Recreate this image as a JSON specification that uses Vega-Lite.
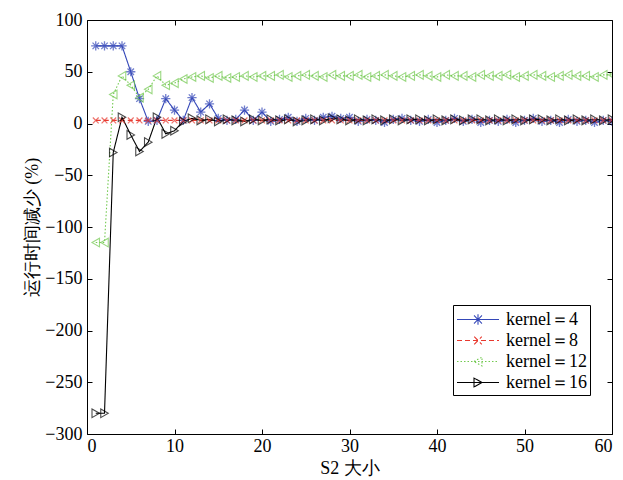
{
  "$schema": "https://vega.github.io/schema/vega-lite/v6.json",
  "autosize": "none",
  "padding": {"left": 87, "top": 20, "right": 11, "bottom": 46},
  "width": 525,
  "height": 414,
  "background": "white",
  "config": {
    "view": {"stroke": null},
    "font": "Liberation Serif",
    "axis": {
      "grid": false,
      "domainColor": "black",
      "tickColor": "black",
      "tickSize": -5,
      "labelColor": "black",
      "titleColor": "black",
      "labelFont": "Liberation Serif",
      "titleFont": "Liberation Serif",
      "labelFontSize": 18,
      "titleFontSize": 18,
      "titleFontWeight": "normal"
    }
  },
  "datasets": {
    "runs": [
      {"x":1,"y":75,"k":"kernel＝4"},{"x":2,"y":75,"k":"kernel＝4"},{"x":3,"y":75,"k":"kernel＝4"},{"x":4,"y":75,"k":"kernel＝4"},{"x":5,"y":50,"k":"kernel＝4"},{"x":6,"y":24,"k":"kernel＝4"},{"x":7,"y":2,"k":"kernel＝4"},{"x":8,"y":3,"k":"kernel＝4"},{"x":9,"y":24,"k":"kernel＝4"},{"x":10,"y":13,"k":"kernel＝4"},
      {"x":11,"y":3,"k":"kernel＝4"},{"x":12,"y":25,"k":"kernel＝4"},{"x":13,"y":11,"k":"kernel＝4"},{"x":14,"y":19,"k":"kernel＝4"},{"x":15,"y":5,"k":"kernel＝4"},{"x":16,"y":3,"k":"kernel＝4"},{"x":17,"y":4,"k":"kernel＝4"},{"x":18,"y":13,"k":"kernel＝4"},{"x":19,"y":3,"k":"kernel＝4"},{"x":20,"y":11,"k":"kernel＝4"},
      {"x":21,"y":2,"k":"kernel＝4"},{"x":22,"y":4,"k":"kernel＝4"},{"x":23,"y":6,"k":"kernel＝4"},{"x":24,"y":2,"k":"kernel＝4"},{"x":25,"y":5,"k":"kernel＝4"},{"x":26,"y":3,"k":"kernel＝4"},{"x":27,"y":6,"k":"kernel＝4"},{"x":28,"y":7,"k":"kernel＝4"},{"x":29,"y":5,"k":"kernel＝4"},{"x":30,"y":6,"k":"kernel＝4"},
      {"x":31,"y":2,"k":"kernel＝4"},{"x":32,"y":4,"k":"kernel＝4"},{"x":33,"y":3,"k":"kernel＝4"},{"x":34,"y":1,"k":"kernel＝4"},{"x":35,"y":4,"k":"kernel＝4"},{"x":36,"y":5,"k":"kernel＝4"},{"x":37,"y":3,"k":"kernel＝4"},{"x":38,"y":2,"k":"kernel＝4"},{"x":39,"y":4,"k":"kernel＝4"},{"x":40,"y":1,"k":"kernel＝4"},
      {"x":41,"y":3,"k":"kernel＝4"},{"x":42,"y":5,"k":"kernel＝4"},{"x":43,"y":2,"k":"kernel＝4"},{"x":44,"y":4,"k":"kernel＝4"},{"x":45,"y":1,"k":"kernel＝4"},{"x":46,"y":3,"k":"kernel＝4"},{"x":47,"y":2,"k":"kernel＝4"},{"x":48,"y":4,"k":"kernel＝4"},{"x":49,"y":1,"k":"kernel＝4"},{"x":50,"y":3,"k":"kernel＝4"},
      {"x":51,"y":5,"k":"kernel＝4"},{"x":52,"y":2,"k":"kernel＝4"},{"x":53,"y":3,"k":"kernel＝4"},{"x":54,"y":1,"k":"kernel＝4"},{"x":55,"y":4,"k":"kernel＝4"},{"x":56,"y":2,"k":"kernel＝4"},{"x":57,"y":3,"k":"kernel＝4"},{"x":58,"y":1,"k":"kernel＝4"},{"x":59,"y":3,"k":"kernel＝4"},{"x":60,"y":2,"k":"kernel＝4"},

      {"x":1,"y":3,"k":"kernel＝8"},{"x":2,"y":3,"k":"kernel＝8"},{"x":3,"y":3,"k":"kernel＝8"},{"x":4,"y":3,"k":"kernel＝8"},{"x":5,"y":3,"k":"kernel＝8"},{"x":6,"y":3,"k":"kernel＝8"},{"x":7,"y":3,"k":"kernel＝8"},{"x":8,"y":3,"k":"kernel＝8"},{"x":9,"y":3,"k":"kernel＝8"},{"x":10,"y":3,"k":"kernel＝8"},
      {"x":11,"y":3,"k":"kernel＝8"},{"x":12,"y":3,"k":"kernel＝8"},{"x":13,"y":3,"k":"kernel＝8"},{"x":14,"y":3,"k":"kernel＝8"},{"x":15,"y":3,"k":"kernel＝8"},{"x":16,"y":3,"k":"kernel＝8"},{"x":17,"y":3,"k":"kernel＝8"},{"x":18,"y":3,"k":"kernel＝8"},{"x":19,"y":3,"k":"kernel＝8"},{"x":20,"y":3,"k":"kernel＝8"},
      {"x":21,"y":3,"k":"kernel＝8"},{"x":22,"y":3,"k":"kernel＝8"},{"x":23,"y":3,"k":"kernel＝8"},{"x":24,"y":3,"k":"kernel＝8"},{"x":25,"y":3,"k":"kernel＝8"},{"x":26,"y":3,"k":"kernel＝8"},{"x":27,"y":3,"k":"kernel＝8"},{"x":28,"y":3,"k":"kernel＝8"},{"x":29,"y":3,"k":"kernel＝8"},{"x":30,"y":3,"k":"kernel＝8"},
      {"x":31,"y":3,"k":"kernel＝8"},{"x":32,"y":3,"k":"kernel＝8"},{"x":33,"y":3,"k":"kernel＝8"},{"x":34,"y":3,"k":"kernel＝8"},{"x":35,"y":3,"k":"kernel＝8"},{"x":36,"y":3,"k":"kernel＝8"},{"x":37,"y":3,"k":"kernel＝8"},{"x":38,"y":3,"k":"kernel＝8"},{"x":39,"y":3,"k":"kernel＝8"},{"x":40,"y":3,"k":"kernel＝8"},
      {"x":41,"y":3,"k":"kernel＝8"},{"x":42,"y":3,"k":"kernel＝8"},{"x":43,"y":3,"k":"kernel＝8"},{"x":44,"y":3,"k":"kernel＝8"},{"x":45,"y":3,"k":"kernel＝8"},{"x":46,"y":3,"k":"kernel＝8"},{"x":47,"y":3,"k":"kernel＝8"},{"x":48,"y":3,"k":"kernel＝8"},{"x":49,"y":3,"k":"kernel＝8"},{"x":50,"y":3,"k":"kernel＝8"},
      {"x":51,"y":3,"k":"kernel＝8"},{"x":52,"y":3,"k":"kernel＝8"},{"x":53,"y":3,"k":"kernel＝8"},{"x":54,"y":3,"k":"kernel＝8"},{"x":55,"y":3,"k":"kernel＝8"},{"x":56,"y":3,"k":"kernel＝8"},{"x":57,"y":3,"k":"kernel＝8"},{"x":58,"y":3,"k":"kernel＝8"},{"x":59,"y":3,"k":"kernel＝8"},{"x":60,"y":3,"k":"kernel＝8"},

      {"x":1,"y":-115,"k":"kernel＝12"},{"x":2,"y":-115,"k":"kernel＝12"},{"x":3,"y":28,"k":"kernel＝12"},{"x":4,"y":46,"k":"kernel＝12"},{"x":5,"y":37,"k":"kernel＝12"},{"x":6,"y":25,"k":"kernel＝12"},{"x":7,"y":33,"k":"kernel＝12"},{"x":8,"y":46,"k":"kernel＝12"},{"x":9,"y":37,"k":"kernel＝12"},{"x":10,"y":39,"k":"kernel＝12"},
      {"x":11,"y":43,"k":"kernel＝12"},{"x":12,"y":45,"k":"kernel＝12"},{"x":13,"y":46,"k":"kernel＝12"},{"x":14,"y":44,"k":"kernel＝12"},{"x":15,"y":46,"k":"kernel＝12"},{"x":16,"y":44,"k":"kernel＝12"},{"x":17,"y":45,"k":"kernel＝12"},{"x":18,"y":46,"k":"kernel＝12"},{"x":19,"y":45,"k":"kernel＝12"},{"x":20,"y":46,"k":"kernel＝12"},
      {"x":21,"y":46,"k":"kernel＝12"},{"x":22,"y":47,"k":"kernel＝12"},{"x":23,"y":45,"k":"kernel＝12"},{"x":24,"y":46,"k":"kernel＝12"},{"x":25,"y":47,"k":"kernel＝12"},{"x":26,"y":46,"k":"kernel＝12"},{"x":27,"y":45,"k":"kernel＝12"},{"x":28,"y":47,"k":"kernel＝12"},{"x":29,"y":46,"k":"kernel＝12"},{"x":30,"y":46,"k":"kernel＝12"},
      {"x":31,"y":47,"k":"kernel＝12"},{"x":32,"y":45,"k":"kernel＝12"},{"x":33,"y":46,"k":"kernel＝12"},{"x":34,"y":47,"k":"kernel＝12"},{"x":35,"y":46,"k":"kernel＝12"},{"x":36,"y":45,"k":"kernel＝12"},{"x":37,"y":46,"k":"kernel＝12"},{"x":38,"y":47,"k":"kernel＝12"},{"x":39,"y":46,"k":"kernel＝12"},{"x":40,"y":45,"k":"kernel＝12"},
      {"x":41,"y":47,"k":"kernel＝12"},{"x":42,"y":46,"k":"kernel＝12"},{"x":43,"y":46,"k":"kernel＝12"},{"x":44,"y":45,"k":"kernel＝12"},{"x":45,"y":47,"k":"kernel＝12"},{"x":46,"y":46,"k":"kernel＝12"},{"x":47,"y":46,"k":"kernel＝12"},{"x":48,"y":47,"k":"kernel＝12"},{"x":49,"y":45,"k":"kernel＝12"},{"x":50,"y":46,"k":"kernel＝12"},
      {"x":51,"y":47,"k":"kernel＝12"},{"x":52,"y":46,"k":"kernel＝12"},{"x":53,"y":45,"k":"kernel＝12"},{"x":54,"y":46,"k":"kernel＝12"},{"x":55,"y":47,"k":"kernel＝12"},{"x":56,"y":46,"k":"kernel＝12"},{"x":57,"y":46,"k":"kernel＝12"},{"x":58,"y":45,"k":"kernel＝12"},{"x":59,"y":47,"k":"kernel＝12"},{"x":60,"y":47,"k":"kernel＝12"},

      {"x":1,"y":-280,"k":"kernel＝16"},{"x":2,"y":-280,"k":"kernel＝16"},{"x":3,"y":-28,"k":"kernel＝16"},{"x":4,"y":6,"k":"kernel＝16"},{"x":5,"y":-11,"k":"kernel＝16"},{"x":6,"y":-27,"k":"kernel＝16"},{"x":7,"y":-18,"k":"kernel＝16"},{"x":8,"y":6,"k":"kernel＝16"},{"x":9,"y":-10,"k":"kernel＝16"},{"x":10,"y":-7,"k":"kernel＝16"},
      {"x":11,"y":2,"k":"kernel＝16"},{"x":12,"y":5,"k":"kernel＝16"},{"x":13,"y":3,"k":"kernel＝16"},{"x":14,"y":4,"k":"kernel＝16"},{"x":15,"y":2,"k":"kernel＝16"},{"x":16,"y":4,"k":"kernel＝16"},{"x":17,"y":3,"k":"kernel＝16"},{"x":18,"y":2,"k":"kernel＝16"},{"x":19,"y":4,"k":"kernel＝16"},{"x":20,"y":3,"k":"kernel＝16"},
      {"x":21,"y":4,"k":"kernel＝16"},{"x":22,"y":3,"k":"kernel＝16"},{"x":23,"y":4,"k":"kernel＝16"},{"x":24,"y":2,"k":"kernel＝16"},{"x":25,"y":3,"k":"kernel＝16"},{"x":26,"y":4,"k":"kernel＝16"},{"x":27,"y":3,"k":"kernel＝16"},{"x":28,"y":5,"k":"kernel＝16"},{"x":29,"y":4,"k":"kernel＝16"},{"x":30,"y":3,"k":"kernel＝16"},
      {"x":31,"y":4,"k":"kernel＝16"},{"x":32,"y":3,"k":"kernel＝16"},{"x":33,"y":4,"k":"kernel＝16"},{"x":34,"y":3,"k":"kernel＝16"},{"x":35,"y":4,"k":"kernel＝16"},{"x":36,"y":3,"k":"kernel＝16"},{"x":37,"y":4,"k":"kernel＝16"},{"x":38,"y":4,"k":"kernel＝16"},{"x":39,"y":3,"k":"kernel＝16"},{"x":40,"y":4,"k":"kernel＝16"},
      {"x":41,"y":3,"k":"kernel＝16"},{"x":42,"y":4,"k":"kernel＝16"},{"x":43,"y":3,"k":"kernel＝16"},{"x":44,"y":4,"k":"kernel＝16"},{"x":45,"y":4,"k":"kernel＝16"},{"x":46,"y":3,"k":"kernel＝16"},{"x":47,"y":4,"k":"kernel＝16"},{"x":48,"y":3,"k":"kernel＝16"},{"x":49,"y":4,"k":"kernel＝16"},{"x":50,"y":3,"k":"kernel＝16"},
      {"x":51,"y":4,"k":"kernel＝16"},{"x":52,"y":4,"k":"kernel＝16"},{"x":53,"y":3,"k":"kernel＝16"},{"x":54,"y":4,"k":"kernel＝16"},{"x":55,"y":3,"k":"kernel＝16"},{"x":56,"y":4,"k":"kernel＝16"},{"x":57,"y":3,"k":"kernel＝16"},{"x":58,"y":4,"k":"kernel＝16"},{"x":59,"y":3,"k":"kernel＝16"},{"x":60,"y":4,"k":"kernel＝16"}
    ]
  },
  "data": {"name": "runs"},
  "encoding": {
    "x": {"field": "x", "type": "quantitative", "scale": {"domain": [0, 60], "nice": false}},
    "y": {"field": "y", "type": "quantitative", "scale": {"domain": [-300, 100], "nice": false}},
    "color": {"field": "k", "type": "nominal",
              "scale": {"domain": ["kernel＝4","kernel＝8","kernel＝12","kernel＝16"], "range": ["#3447b8","#e8392f","#72c94f","#000000"]}}
  },
  "layer": [
    {
      "mark": {"type": "line", "strokeWidth": 1.1, "clip": true},
      "encoding": {
        "x": {"field": "x", "type": "quantitative",
              "axis": {"title": "S2 大小", "values": [0,10,20,30,40,50,60], "labelPadding": 8, "titlePadding": 4}},
        "y": {"field": "y", "type": "quantitative",
              "axis": {"title": "运行时间减少 (%)", "values": [-300,-250,-200,-150,-100,-50,0,50,100], "labelPadding": 10, "titlePadding": 3}},
        "color": {"field": "k", "type": "nominal",
                  "legend": {
                    "title": null, "orient": "none", "legendX": 366, "legendY": 285,
                    "strokeColor": "black", "fillColor": "white", "padding": 3, "cornerRadius": 0,
                    "labelFont": "Liberation Serif", "labelFontSize": 18, "labelColor": "black",
                    "labelOffset": 27, "rowPadding": 0, "symbolSize": 441, "symbolStrokeWidth": 1.1,
                    "symbolOpacity": 1, "symbolFillColor": "transparent"
                  }},
        "strokeDash": {"field": "k", "type": "nominal",
                  "scale": {"domain": ["kernel＝4","kernel＝8","kernel＝12","kernel＝16"], "range": [[1,0],[5,3],[1.5,2],[1,0]]},
                  "legend": null}
      }
    },
    {
      "mark": {"type": "point", "filled": false, "opacity": 0, "clip": true},
      "encoding": {
        "x": {"field": "x", "type": "quantitative",
              "axis": {"orient": "top", "labels": false, "title": null, "values": [0,10,20,30,40,50,60]}},
        "y": {"field": "y", "type": "quantitative",
              "axis": {"orient": "right", "labels": false, "title": null, "values": [-300,-250,-200,-150,-100,-50,0,50,100]}},
        "shape": {"field": "k", "type": "nominal",
                  "scale": {"domain": ["kernel＝4","kernel＝8","kernel＝12","kernel＝16"],
                            "range": [
                              "M-1,0L3,0M1,-0.5L1,0.5M0.62,-0.38L1.38,0.38M0.62,0.38L1.38,-0.38",
                              "M-1,0L3,0M0.64,-0.36L1.36,0.36M0.64,0.36L1.36,-0.36",
                              "M-1,0L3,0M0.62,0L1.38,-0.42L1.38,0.42Z",
                              "M-1,0L3,0M1.38,0L0.62,-0.42L0.62,0.42Z"]},
                  "legend": null}
      }
    },
    {
      "transform": [{"filter": "datum.k === 'kernel＝4'"}],
      "mark": {"type": "point", "filled": false, "strokeWidth": 1.3, "size": 85, "clip": true,
               "shape": "M-1,0L1,0M0,-1L0,1M-0.7,-0.7L0.7,0.7M-0.7,0.7L0.7,-0.7"},
      "encoding": {"x": {"field": "x", "type": "quantitative", "axis": null}, "y": {"field": "y", "type": "quantitative", "axis": null}}
    },
    {
      "transform": [{"filter": "datum.k === 'kernel＝8'"}],
      "mark": {"type": "point", "filled": false, "strokeWidth": 1.2, "size": 60, "clip": true,
               "shape": "M-0.75,-0.75L0.75,0.75M-0.75,0.75L0.75,-0.75"},
      "encoding": {"x": {"field": "x", "type": "quantitative", "axis": null}, "y": {"field": "y", "type": "quantitative", "axis": null}}
    },
    {
      "transform": [{"filter": "datum.k === 'kernel＝12'"}],
      "mark": {"type": "point", "filled": false, "strokeWidth": 1.1, "size": 75, "clip": true, "shape": "triangle-left"},
      "encoding": {"x": {"field": "x", "type": "quantitative", "axis": null}, "y": {"field": "y", "type": "quantitative", "axis": null}}
    },
    {
      "transform": [{"filter": "datum.k === 'kernel＝16'"}],
      "mark": {"type": "point", "filled": false, "strokeWidth": 1.1, "size": 75, "clip": true, "shape": "triangle-right"},
      "encoding": {"x": {"field": "x", "type": "quantitative", "axis": null}, "y": {"field": "y", "type": "quantitative", "axis": null}}
    }
  ],
  "resolve": {"axis": {"x": "independent", "y": "independent"}}
}
